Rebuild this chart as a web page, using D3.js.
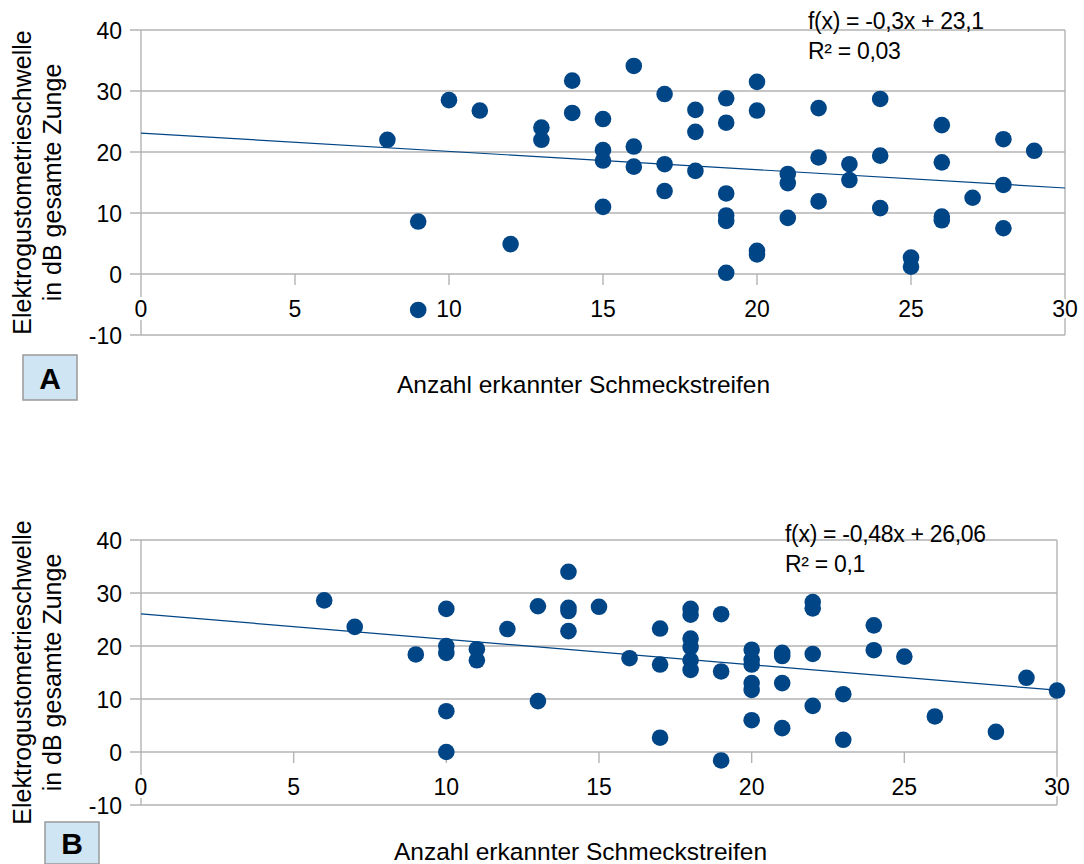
<!DOCTYPE html>
<html>
<head>
<meta charset="utf-8">
<script src="https://cdn.jsdelivr.net/npm/d3@7"></script>
<style>
  body { margin: 0; background: #fff; }
  text { font-family: "Liberation Sans", Arial, sans-serif; fill: #000; }
</style>
</head>
<body>
<script>
const xTicks = [0, 5, 10, 15, 20, 25, 30];
const yTicks = [-10, 0, 10, 20, 30, 40];

const yTitle = ["Elektrogustometrieschwelle", "in dB gesamte Zunge"];
const xTitle = "Anzahl erkannter Schmeckstreifen";

// panel A: strips recognised vs. threshold
const stripsA = [8, 9, 9, 10, 11, 12, 13, 13, 14, 14, 15, 15, 15, 15, 16, 16, 16,
    17, 17, 17, 18, 18, 18, 19, 19, 19, 19, 19, 19, 20, 20, 20, 20, 21, 21, 21,
    22, 22, 22, 23, 23, 24, 24, 24, 25, 25, 26, 26, 26, 26, 27, 28, 28, 28, 29];
const thresholdA = [22.0, 8.6, -5.9, 28.5, 26.8, 4.9, 24.0, 22.0, 31.7, 26.4, 25.4, 20.3, 18.6, 11.0, 34.1, 20.9, 17.6,
    29.5, 18.0, 13.6, 26.9, 23.3, 16.9, 28.8, 24.8, 13.2, 9.6, 8.7, 0.2, 31.5, 26.8, 3.8, 3.2, 16.4, 14.9, 9.2,
    27.2, 19.1, 11.9, 18.0, 15.4, 28.7, 19.4, 10.8, 2.7, 1.2, 24.4, 18.3, 9.4, 8.8, 12.5, 22.1, 14.6, 7.5, 20.2];
const trendA = [-0.3, 23.1];
const equationA = ["f(x) = -0,3x + 23,1", "R² = 0,03"];

// panel B
const stripsB = [6, 7, 9, 10, 10, 10, 10, 10, 11, 11, 12, 13, 13, 14, 14, 14, 14, 15, 16,
    17, 17, 17, 18, 18, 18, 18, 18, 18, 19, 19, 19, 20, 20, 20, 20, 20, 20,
    21, 21, 21, 21, 22, 22, 22, 22, 23, 23, 24, 24, 25, 26, 28, 29, 30];
const thresholdB = [28.6, 23.6, 18.4, 27.0, 20.0, 18.7, 7.7, 0.0, 19.4, 17.3, 23.2, 27.5, 9.6, 34.0, 27.2, 26.6, 22.8, 27.4, 17.7,
    23.3, 16.5, 2.7, 27.0, 25.9, 21.4, 19.8, 17.3, 15.5, 26.0, 15.2, -1.6, 19.3, 17.4, 16.5, 13.0, 11.7, 6.0,
    18.7, 18.1, 13.0, 4.5, 28.3, 27.1, 18.5, 8.7, 10.9, 2.3, 23.9, 19.2, 18.0, 6.7, 3.8, 14.0, 11.6];
const trendB = [-0.48, 26.06];
const equationB = ["f(x) = -0,48x + 26,06", "R² = 0,1"];

const panelLabels = ["A", "B"];

const width = 1084, height = 864;
const blue = "#004586", grid = "#b3b3b3";

const svg = d3.select("body").append("svg")
    .attr("width", width)
    .attr("height", height);

function drawPanel(xs, ys, trend, equation, label, lay) {
    const x = d3.scaleLinear().domain([0, 30]).range([lay.left, lay.right]);
    const y = d3.scaleLinear().domain([-10, 40]).range([lay.bottom, lay.top]);
    const g = svg.append("g");

    // horizontal grid + y ticks
    g.selectAll(".hgrid")
        .data(yTicks)
        .enter()
        .append("line")
        .attr("x1", lay.left - 11)
        .attr("x2", lay.right)
        .attr("y1", d => y(d))
        .attr("y2", d => y(d))
        .attr("stroke", grid)
        .attr("stroke-width", 1.4);

    // left axis line and right border
    g.append("line")
        .attr("x1", x(0)).attr("x2", x(0))
        .attr("y1", y(40)).attr("y2", y(-10))
        .attr("stroke", grid).attr("stroke-width", 1.4);
    g.append("line")
        .attr("x1", x(30)).attr("x2", x(30))
        .attr("y1", y(40)).attr("y2", y(-10))
        .attr("stroke", grid).attr("stroke-width", 1.4);

    // x ticks hanging from the zero line
    g.selectAll(".xtick")
        .data(xTicks.slice(1, -1))
        .enter()
        .append("line")
        .attr("x1", d => x(d)).attr("x2", d => x(d))
        .attr("y1", y(0)).attr("y2", y(0) + 11)
        .attr("stroke", grid).attr("stroke-width", 1.4);

    g.selectAll(".ylab")
        .data(yTicks)
        .enter()
        .append("text")
        .attr("x", lay.left - 19)
        .attr("y", d => y(d) + 8.5)
        .attr("text-anchor", "end")
        .attr("font-size", 23)
        .text(d => d);

    g.selectAll(".xlab")
        .data(xTicks)
        .enter()
        .append("text")
        .attr("x", d => x(d))
        .attr("y", lay.xLabelY)
        .attr("text-anchor", "middle")
        .attr("font-size", 23)
        .attr("stroke", "#fff")
        .attr("stroke-width", 6)
        .attr("paint-order", "stroke")
        .text(d => d);

    // trend line
    g.append("line")
        .attr("x1", x(0)).attr("y1", y(trend[1]))
        .attr("x2", x(30)).attr("y2", y(trend[0] * 30 + trend[1]))
        .attr("stroke", blue)
        .attr("stroke-width", 1.2);

    g.selectAll(".pt")
        .data(xs.map((d, i) => [d, ys[i]]))
        .enter()
        .append("circle")
        .attr("cx", d => x(d[0]))
        .attr("cy", d => y(d[1]))
        .attr("r", 8.3)
        .attr("fill", blue);

    g.selectAll(".eq")
        .data(equation)
        .enter()
        .append("text")
        .attr("x", lay.eqX)
        .attr("y", (d, i) => lay.eqY + i * 30)
        .attr("font-size", 23)
        .attr("letter-spacing", -0.3)
        .text(d => d);

    // axis titles
    const yt = g.append("text")
        .attr("transform", `translate(0,${(lay.top + lay.bottom) / 2}) rotate(-90)`)
        .attr("text-anchor", "middle")
        .attr("font-size", 25);
    yt.selectAll("tspan")
        .data(yTitle)
        .enter()
        .append("tspan")
        .attr("x", 0)
        .attr("y", (d, i) => 31 + i * 30)
        .text(d => d);

    g.append("text")
        .attr("x", lay.xTitleX)
        .attr("y", lay.xTitleY)
        .attr("font-size", 24.5)
        .text(xTitle);

    // panel letter box
    g.append("rect")
        .attr("x", lay.box[0]).attr("y", lay.box[1])
        .attr("width", lay.box[2]).attr("height", lay.box[3])
        .attr("fill", "#cfe5f4")
        .attr("stroke", "#999")
        .attr("stroke-width", 1.5);
    g.append("text")
        .attr("x", lay.box[0] + lay.box[2] / 2)
        .attr("y", lay.box[1] + lay.box[3] / 2 + 11)
        .attr("text-anchor", "middle")
        .attr("font-size", 30)
        .attr("font-weight", "bold")
        .text(label);
}

drawPanel(stripsA, thresholdA, trendA, equationA, panelLabels[0], {
    left: 141, right: 1065, top: 30, bottom: 335,
    xLabelY: 317, eqX: 808, eqY: 29,
    xTitleX: 397, xTitleY: 393,
    box: [23, 355, 54, 45]
});

drawPanel(stripsB, thresholdB, trendB, equationB, panelLabels[1], {
    left: 141, right: 1057, top: 540, bottom: 805,
    xLabelY: 795, eqX: 785, eqY: 542,
    xTitleX: 394, xTitleY: 860,
    box: [45, 822, 54, 42]
});
</script>
</body>
</html>
